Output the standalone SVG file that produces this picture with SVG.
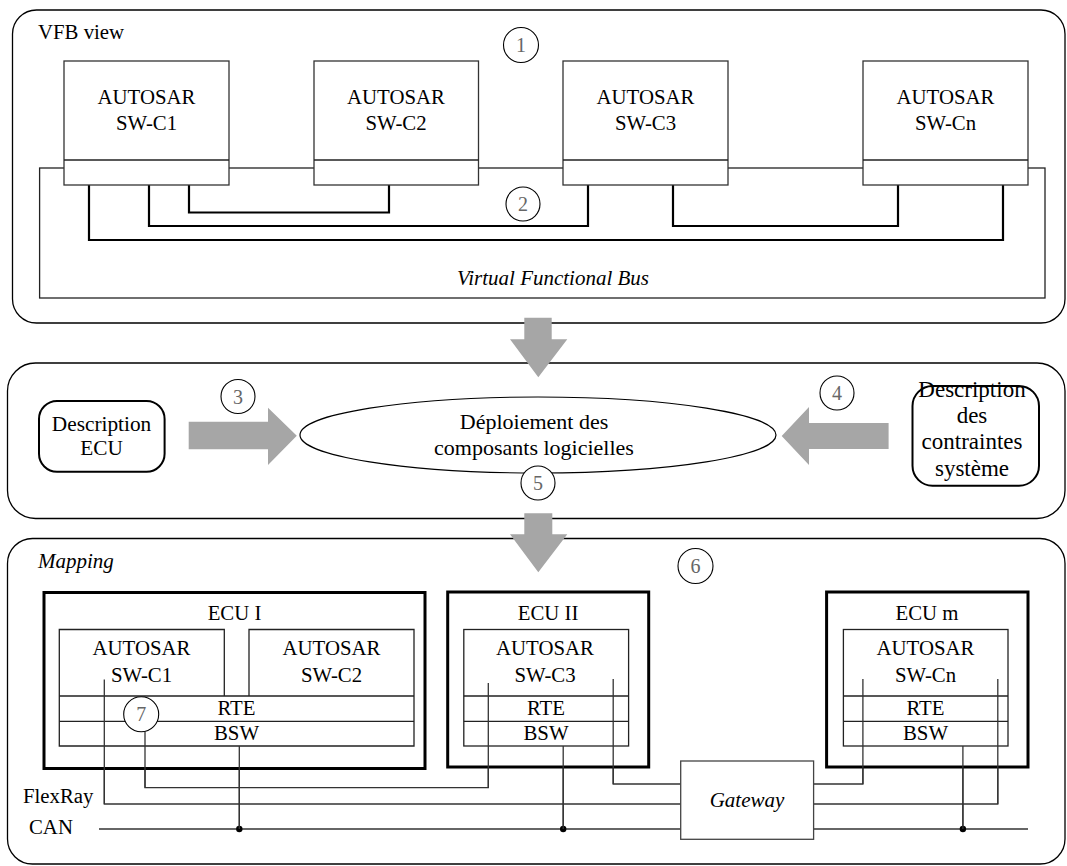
<svg xmlns="http://www.w3.org/2000/svg" width="1067" height="866" viewBox="0 0 1067 866" font-family="'Liberation Serif', 'Times New Roman', serif">
<style>
.bg{fill:#fff}
.panel{fill:#fff;stroke:#000;stroke-width:1.3}
.box{fill:#fff;stroke:#333;stroke-width:1.3}
.line{fill:none;stroke:#222;stroke-width:1.3}
.conn{fill:none;stroke:#000;stroke-width:2.2}
.wire{fill:none;stroke:#333;stroke-width:1.3}
.ecu{fill:#fff;stroke:#000;stroke-width:3}
.desc{fill:#fff;stroke:#000;stroke-width:2}
.ell{fill:#fff;stroke:#000;stroke-width:1.2}
.arrow{fill:#a6a6a6}
.num{fill:#fff;stroke:#000;stroke-width:1.1}
.dot{fill:#000}
text{font-family:'Liberation Serif','Times New Roman',serif;font-size:20.8px;fill:#000}
.c{text-anchor:middle}
.i{font-style:italic;font-size:21px}
.g{fill:#666;text-anchor:middle;font-size:20px}
.big{font-size:22px}
.big2{font-size:23px}
</style>
<rect class="bg" x="0" y="0" width="1067" height="866"/>

<g id="panel-vfb">
  <rect class="panel" x="12.5" y="10" width="1052.5" height="313" rx="24" ry="24"/>
  <text x="38" y="39">VFB view</text>
</g>
<g id="panel-deploy">
  <rect class="panel" x="7.5" y="363" width="1057.5" height="155.5" rx="28" ry="28"/>
</g>
<g id="panel-mapping">
  <rect class="panel" x="7.5" y="538.5" width="1057.5" height="325.5" rx="25" ry="25"/>
  <text class="i" x="38" y="568">Mapping</text>
</g>

<g id="vfb-bus">
  <rect class="line" x="39.6" y="168" width="1005.4" height="130"/>
  <text class="c i" x="553" y="285">Virtual Functional Bus</text>
</g>

<g id="connectors">
  <path class="conn" d="M189,185 V212.5 H389 V185"/>
  <path class="conn" d="M149,185 V226 H588 V185"/>
  <path class="conn" d="M89,185 V240 H1003 V185"/>
  <path class="conn" d="M673,185 V226 H898 V185"/>
  <path class="wire" d="M179,690 V717.5 H294.3 V690"/>
  <path class="wire" d="M145,684 V697"/>
  <path class="wire" d="M145,731.5 V787.7 H488.3 V683"/>
  <path class="wire" d="M104.3,679.5 V804 H680.7"/>
  <path class="wire" d="M613.2,679 V784 H680.7"/>
  <path class="wire" d="M813.6,784 H862.9 V679"/>
  <path class="wire" d="M813.6,804 H997.8 V679"/>
  <path class="wire" d="M99,829 H680.7"/>
  <path class="wire" d="M813.6,829 H1028"/>
  <path class="wire" d="M239.3,746 V829"/>
  <path class="wire" d="M563.2,746 V829"/>
  <path class="wire" d="M962.9,746 V829"/>
  <circle class="dot" cx="239.3" cy="829" r="3.2"/>
  <circle class="dot" cx="563.2" cy="829" r="3.2"/>
  <circle class="dot" cx="962.9" cy="829" r="3.2"/>
</g>

<g id="swc1">
  <rect class="box" x="64" y="61" width="165" height="124"/>
  <line class="line" x1="64" y1="160" x2="229" y2="160"/>
  <text class="c" x="146.5" y="104">AUTOSAR</text>
  <text class="c" x="146.5" y="130">SW-C1</text>
</g>
<g id="swc2">
  <rect class="box" x="314" y="61" width="164.5" height="124"/>
  <line class="line" x1="314" y1="160" x2="478.5" y2="160"/>
  <text class="c" x="396" y="104">AUTOSAR</text>
  <text class="c" x="396" y="130">SW-C2</text>
</g>
<g id="swc3">
  <rect class="box" x="563" y="61" width="165" height="124"/>
  <line class="line" x1="563" y1="160" x2="728" y2="160"/>
  <text class="c" x="645.5" y="104">AUTOSAR</text>
  <text class="c" x="645.5" y="130">SW-C3</text>
</g>
<g id="swcn">
  <rect class="box" x="863" y="61" width="165" height="124"/>
  <line class="line" x1="863" y1="160" x2="1028" y2="160"/>
  <text class="c" x="945.5" y="104">AUTOSAR</text>
  <text class="c" x="945.5" y="130">SW-Cn</text>
</g>

<g id="circle-1"><circle class="num" cx="521" cy="45" r="17.5"/><text class="g" x="521" y="52">1</text></g>
<g id="circle-2"><circle class="num" cx="523" cy="204" r="17"/><text class="g" x="523" y="211">2</text></g>

<g id="arrow-down-1">
  <polygon class="arrow" points="524.3,317.7 551.7,317.7 551.7,339.3 567.3,339.3 538.3,377.3 510,339.3 524.3,339.3"/>
</g>

<g id="desc-ecu">
  <rect class="desc" x="39" y="401" width="125.6" height="70.7" rx="18" ry="18"/>
  <text class="c" x="101.5" y="430.5" style="font-size:21.3px">Description</text>
  <text class="c" x="101.5" y="455" style="font-size:21.3px">ECU</text>
</g>
<g id="arrow-3">
  <polygon class="arrow" points="188.7,421.7 268,421.7 268,407.7 296.8,435.7 268,465 268,449.3 188.7,449.3"/>
</g>
<g id="circle-3"><circle class="num" cx="238" cy="396.5" r="17"/><text class="g" x="238" y="403.5">3</text></g>

<g id="deploiement">
  <ellipse class="ell" cx="538" cy="435" rx="238" ry="38"/>
  <text class="c big" x="534" y="429">Déploiement des</text>
  <text class="c big" x="534" y="455">composants logicielles</text>
</g>
<g id="circle-5"><circle class="num" cx="538" cy="483" r="17"/><text class="g" x="538" y="490">5</text></g>

<g id="arrow-4">
  <polygon class="arrow" points="888.6,423 809,423 809,407 781.7,436 809,465 809,449 888.6,449"/>
</g>
<g id="circle-4"><circle class="num" cx="837" cy="393" r="17"/><text class="g" x="837" y="400">4</text></g>

<g id="desc-contraintes">
  <rect class="desc" x="912.5" y="386" width="126.5" height="99.7" rx="20" ry="20"/>
  <text class="c big2" x="972" y="397">Description</text>
  <text class="c big2" x="972" y="422.5">des</text>
  <text class="c big2" x="972" y="449">contraintes</text>
  <text class="c big2" x="972" y="476">système</text>
</g>

<g id="arrow-down-2">
  <polygon class="arrow" points="524.3,513.3 552.3,513.3 552.3,534.3 567.3,534.3 538.3,572.3 510,534.3 524.3,534.3"/>
</g>

<g id="circle-6"><circle class="num" cx="695.5" cy="566" r="17.5"/><text class="g" x="695.5" y="573">6</text></g>

<g id="ecu-1">
  <rect class="ecu" x="44" y="592.5" width="381" height="176"/>
  <text class="c" x="234.5" y="620">ECU I</text>
  <path class="line" d="M224.3,696 V629.5 H59.3 V746 H414 V629.5 H249 V696"/>
  <path class="line" d="M59.3,696 H414 M59.3,721.3 H414"/>
  <text class="c" x="141.5" y="655">AUTOSAR</text>
  <text class="c" x="141.5" y="681.5">SW-C1</text>
  <text class="c" x="331.5" y="655">AUTOSAR</text>
  <text class="c" x="331.5" y="681.5">SW-C2</text>
  <text class="c" x="236.5" y="715">RTE</text>
  <text class="c" x="236.5" y="740">BSW</text>
</g>
<g id="ecu-2">
  <rect class="ecu" x="447.7" y="592" width="201" height="175"/>
  <text class="c" x="548" y="620">ECU II</text>
  <rect class="line" x="463.8" y="629.5" width="164.8" height="116.5"/>
  <path class="line" d="M463.8,696 H628.6 M463.8,721.3 H628.6"/>
  <text class="c" x="545" y="655">AUTOSAR</text>
  <text class="c" x="545" y="681.5">SW-C3</text>
  <text class="c" x="546" y="715">RTE</text>
  <text class="c" x="546" y="740">BSW</text>
</g>
<g id="ecu-m">
  <rect class="ecu" x="826.6" y="592" width="201.4" height="175"/>
  <text class="c" x="927" y="620">ECU m</text>
  <rect class="line" x="843.4" y="629.5" width="164.6" height="116.5"/>
  <path class="line" d="M843.4,696 H1008 M843.4,721.3 H1008"/>
  <text class="c" x="925.5" y="655">AUTOSAR</text>
  <text class="c" x="925.5" y="681.5">SW-Cn</text>
  <text class="c" x="925.5" y="715">RTE</text>
  <text class="c" x="925.5" y="740">BSW</text>
</g>

<g id="circle-7"><circle class="num" cx="141.2" cy="714.3" r="17.5"/><text class="g" x="141.2" y="721.3">7</text></g>

<g id="gateway">
  <rect class="box" x="680.7" y="761" width="132.9" height="78.3" style="stroke:#444"/>
  <text class="c i" x="747" y="806.7">Gateway</text>
</g>

<g id="labels">
  <text x="23" y="802.7">FlexRay</text>
  <text x="29" y="834">CAN</text>
</g>

<g id="connectors-overlay">
  <path class="wire" d="M104.3,679.5 V804"/>
  <path class="wire" d="M145,731.5 V787.7"/>
  <path class="wire" d="M488.3,683 V787.7"/>
  <path class="wire" d="M613.2,679 V784"/>
  <path class="wire" d="M862.9,679 V784"/>
  <path class="wire" d="M997.8,679 V804"/>
  <path class="wire" d="M239.3,746 V829"/>
  <path class="wire" d="M563.2,746 V829"/>
  <path class="wire" d="M962.9,746 V829"/>
</g>
</svg>
